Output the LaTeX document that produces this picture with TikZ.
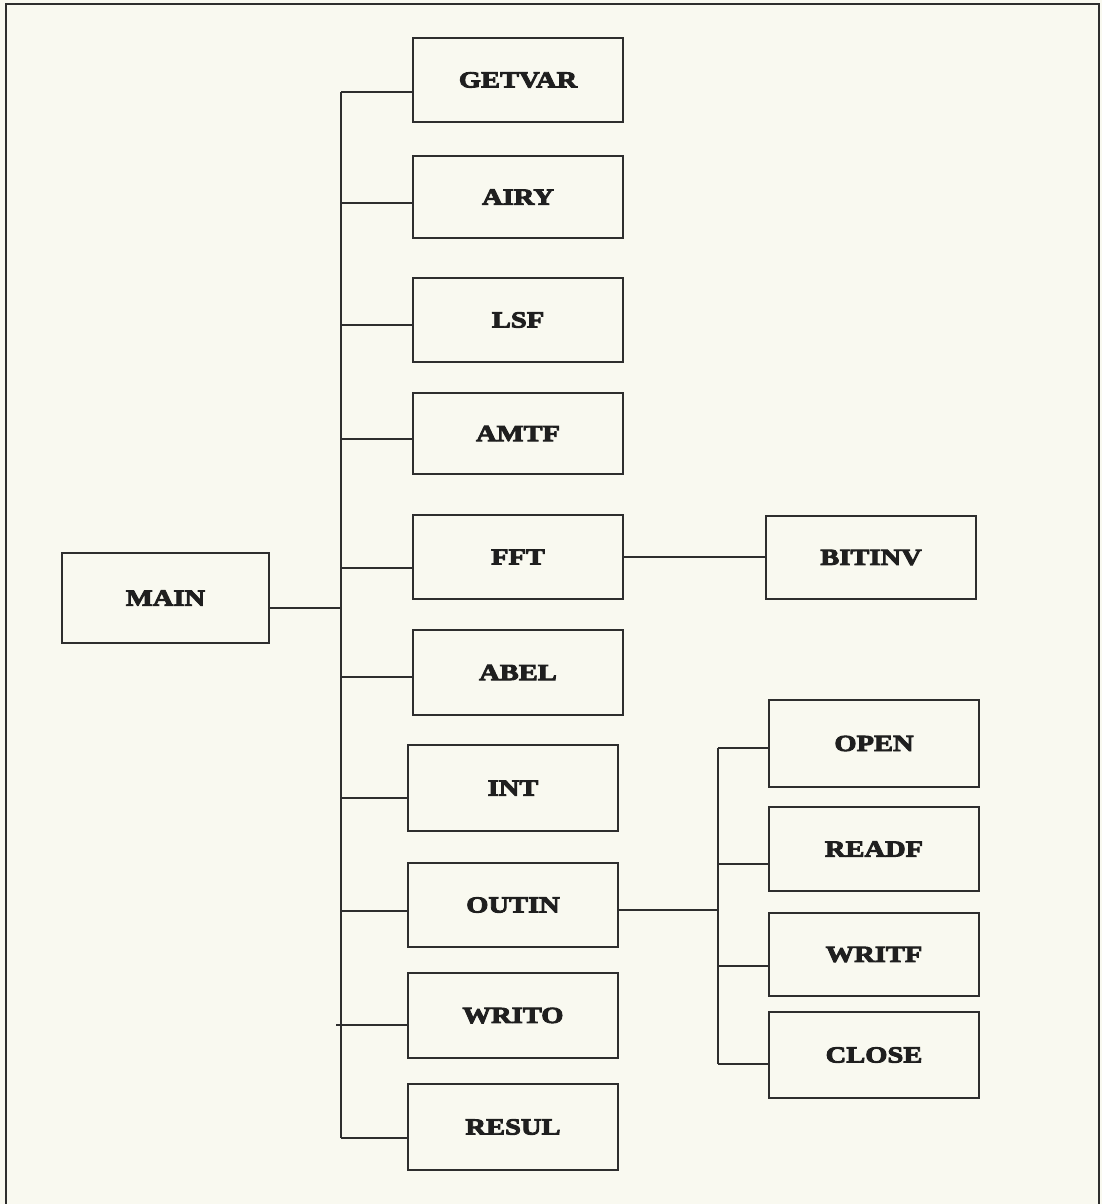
\documentclass[tikz,border=0pt]{standalone}
\usepackage{fontspec}
\setmainfont{Liberation Serif}
\newfontfamily\boxfont{Liberation Serif Bold}[FakeStretch=1.24, FakeBold=4]
\begin{document}
\begin{tikzpicture}[x=1pt,y=-1pt,
  ink/.style={draw=black!82, line width=2.4pt},
  blk/.style={ink, rectangle, inner sep=0pt, minimum width=210pt,
    minimum height=84pt, font=\boxfont\fontsize{23}{25}\selectfont, text=black!88},
  wire/.style={draw=black!82, line width=2pt}]
% page and frame
\fill[fill={rgb,255:red,249;green,249;blue,240}] (0,0) rectangle (1102,1204);
\useasboundingbox (0,0) rectangle (1102,1204);
\draw[ink] (6,1204) -- (6,4) -- (1099,4) -- (1099,1204);

% main program
\node[blk, minimum width=207pt, minimum height=90pt] (main) at (165.5,598) {MAIN};

% first-level routines
\node[blk] (getvar) at (518,80)    {GETVAR};
\node[blk, minimum height=82pt] (airy) at (518,197) {AIRY};
\node[blk] (lsf)    at (518,320)   {LSF};
\node[blk, minimum height=81pt] (amtf) at (518,433.5) {AMTF};
\node[blk] (fft)    at (518,557)   {FFT};
\node[blk, minimum height=85pt] (abel) at (518,672.5) {ABEL};
\node[blk, minimum height=86pt] (int)  at (513,788) {INT};
\node[blk] (outin)  at (513,905)   {OUTIN};
\node[blk, minimum height=85pt] (writo) at (513,1015.5) {WRITO};
\node[blk, minimum height=86pt] (resul) at (513,1127) {RESUL};

% second-level routines
\node[blk, minimum height=83pt] (bitinv) at (871,557.5) {BITINV};
\node[blk, minimum height=87pt] (open)  at (874,743.5) {OPEN};
\node[blk] (readf)  at (874,849)   {READF};
\node[blk, minimum height=83pt] (writf) at (874,954.5) {WRITF};
\node[blk, minimum height=86pt] (close) at (874,1055) {CLOSE};

% trunk from MAIN to the first-level routines
\coordinate (ttop) at (341,92);
\coordinate (tbot) at (341,1138);
\coordinate (tmain) at (341,608);
\draw[wire] (ttop) -- (tbot);
\draw[wire] (main.east |- tmain) -- (tmain);

\coordinate (b1) at (341,92);
\coordinate (b2) at (341,203);
\coordinate (b3) at (341,325);
\coordinate (b4) at (341,439);
\coordinate (b5) at (341,568);
\coordinate (b6) at (341,677);
\coordinate (b7) at (341,798);
\coordinate (b8) at (341,911);
\coordinate (b9) at (336,1025);
\coordinate (b10) at (341,1138);
\draw[wire] (b1) -- (b1 -| getvar.west);
\draw[wire] (b2) -- (b2 -| airy.west);
\draw[wire] (b3) -- (b3 -| lsf.west);
\draw[wire] (b4) -- (b4 -| amtf.west);
\draw[wire] (b5) -- (b5 -| fft.west);
\draw[wire] (b6) -- (b6 -| abel.west);
\draw[wire] (b7) -- (b7 -| int.west);
\draw[wire] (b8) -- (b8 -| outin.west);
\draw[wire] (b9) -- (b9 -| writo.west);
\draw[wire] (b10) -- (b10 -| resul.west);

% FFT calls BITINV
\draw[wire] (fft.east) -- (bitinv.west |- fft.east);

% OUTIN calls the file routines
\coordinate (sj) at (718,910);
\coordinate (s1) at (718,748);
\coordinate (s2) at (718,864);
\coordinate (s3) at (718,966);
\coordinate (s4) at (718,1064);
\draw[wire] (outin.east |- sj) -- (sj);
\draw[wire] (s1) -- (s4);
\draw[wire] (s1) -- (s1 -| open.west);
\draw[wire] (s2) -- (s2 -| readf.west);
\draw[wire] (s3) -- (s3 -| writf.west);
\draw[wire] (s4) -- (s4 -| close.west);
\end{tikzpicture}
\end{document}
